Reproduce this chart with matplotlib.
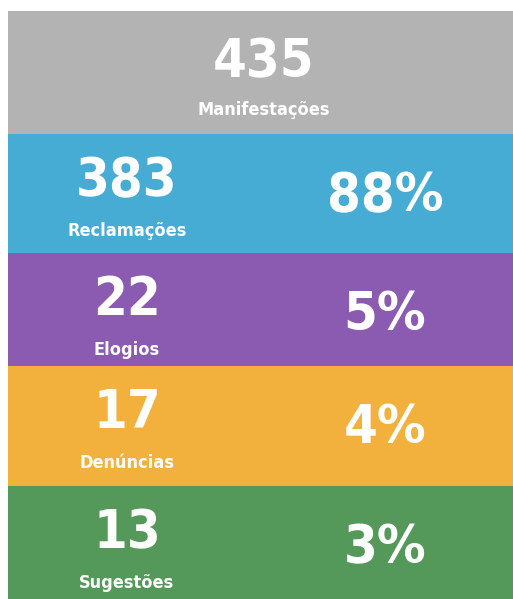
import matplotlib
matplotlib.use('Agg')
import matplotlib.pyplot as plt

# data
total = 435
total_label = 'Manifestações'
categories = ['Reclamações', 'Elogios', 'Denúncias', 'Sugestões']
counts = [383, 22, 17, 13]
percents = ['88%', '5%', '4%', '3%']

colors = ['#46ACD4', '#8A5BB0', '#F2B13C', '#55995A']
band_edges = [134, 253, 366, 486, 599]  # y pixel edges of the coloured bands

plt.rcParams['font.family'] = ['DejaVu Sans']

fig = plt.figure(figsize=(5.13, 5.99), dpi=100)
ax = fig.add_axes([0, 0, 1, 1])
ax.set_xlim(0, 513)
ax.set_ylim(599, 0)
ax.axis('off')

big = dict(color='white', fontsize=39, fontweight='bold', fontstretch='condensed',
           ha='center', va='center')
small = dict(color='white', fontsize=13, fontweight='bold', fontstretch='condensed',
             ha='center', va='center')

# top gray band
ax.barh(11 + (134 - 11) / 2, 505, height=134 - 11, left=8, color='#B3B3B3')
ax.text(264, 62, str(total), **big)
ax.text(264, 110, total_label, **small)

for i in range(len(categories)):
    top = band_edges[i]
    bot = band_edges[i + 1]
    h = bot - top
    ax.barh(top + h / 2, 505, height=h, left=8, color=colors[i])
    ax.text(127, top + 47, str(counts[i]), **big)
    ax.text(127, top + 97, categories[i], **small)
    ax.text(385, top + 62, percents[i], **big)

fig.savefig('out.png', dpi=100)
